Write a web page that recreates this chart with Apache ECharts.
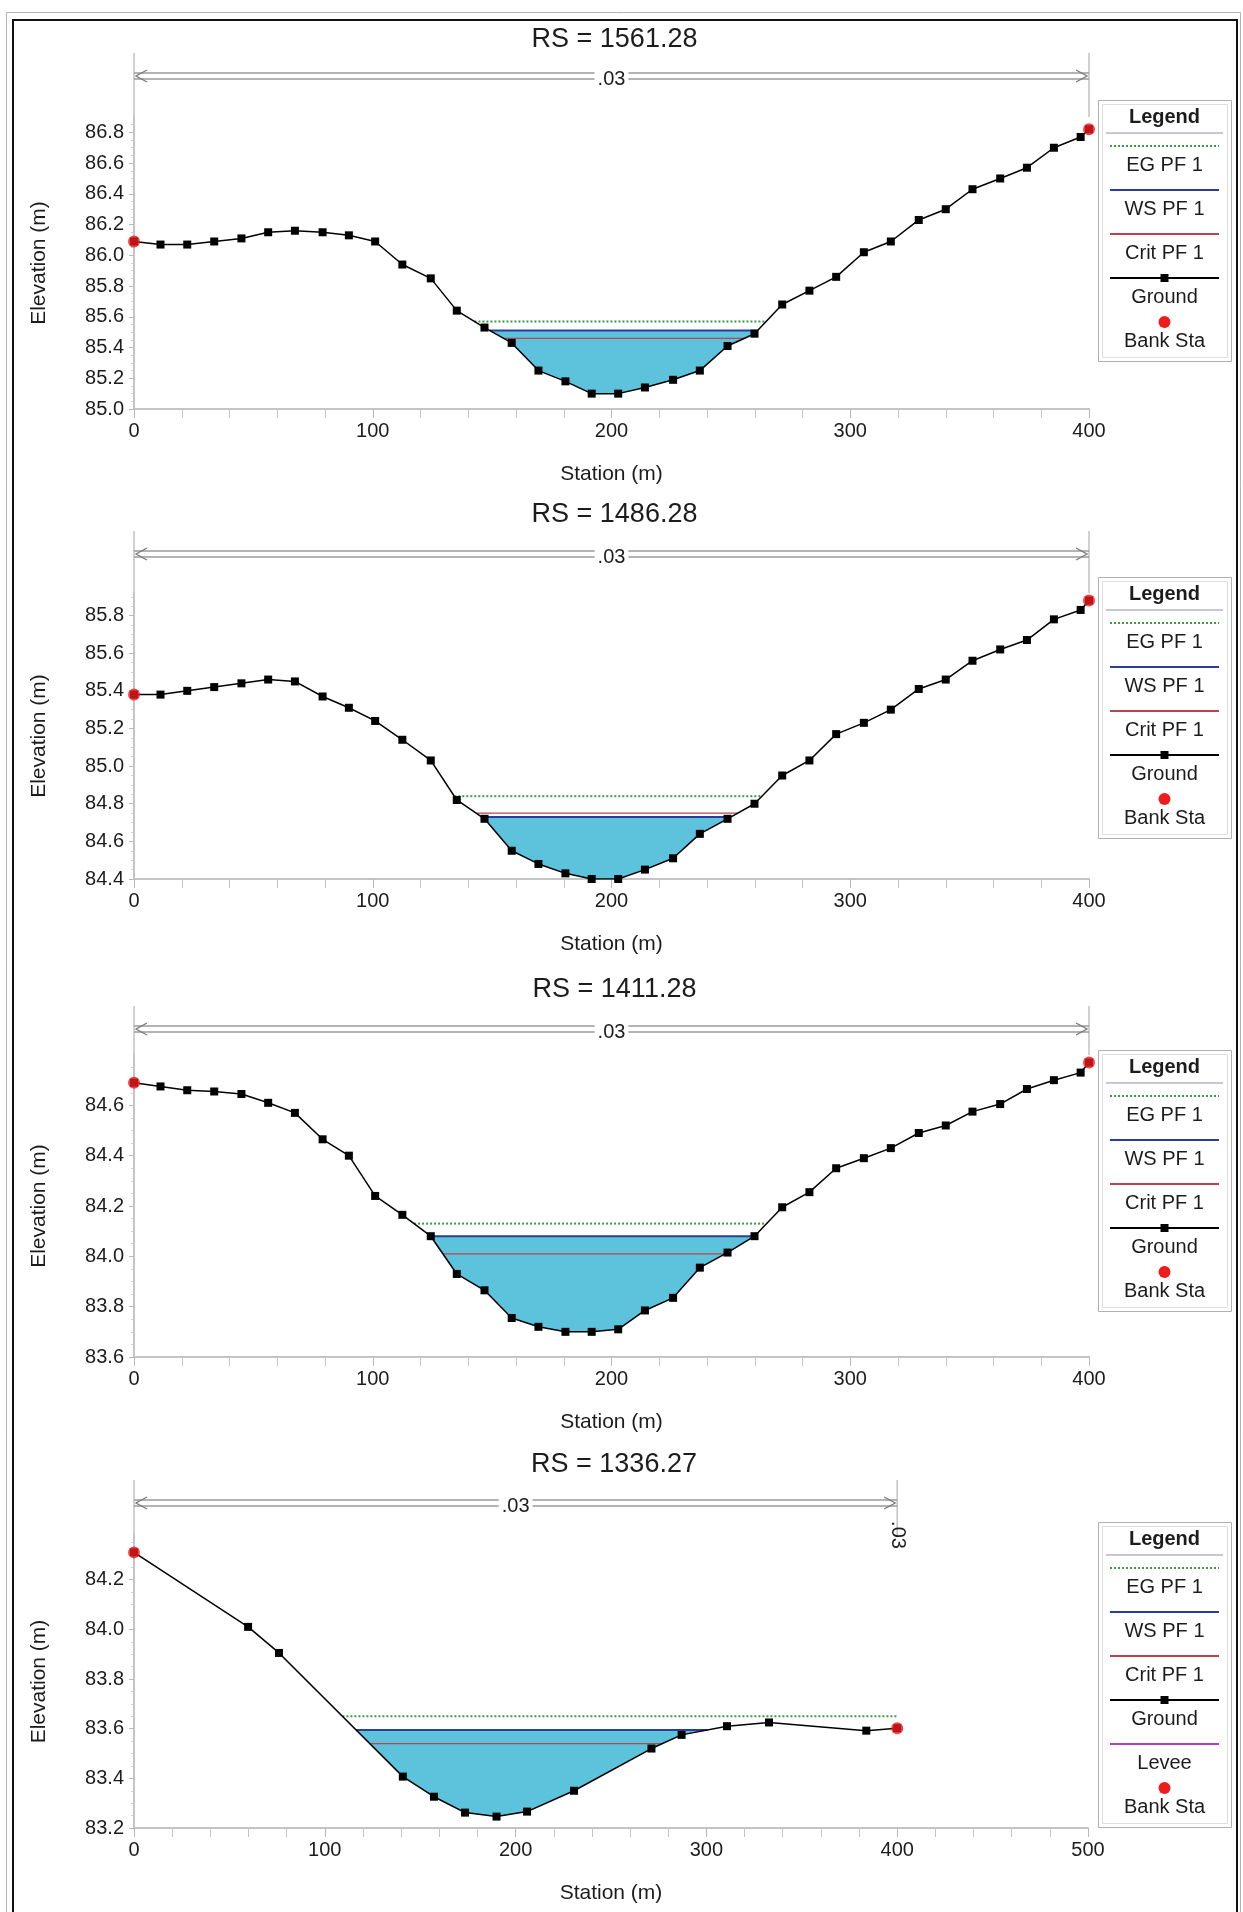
<!DOCTYPE html>
<html>
<head>
<meta charset="utf-8">
<title>Cross Sections PF 1</title>
<script src="https://cdn.jsdelivr.net/npm/echarts@6/dist/echarts.min.js"></script>
<style>
  html, body { margin: 0; padding: 0; background: #ffffff; }
  #chart { width: 1243px; height: 1912px; }
</style>
</head>
<body>
<div id="chart"></div>
<script>
// ---------------------------------------------------------------
// Survey data: station (m) and ground elevation (m)
// ---------------------------------------------------------------
const riverStations = ['1561.28', '1486.28', '1411.28', '1336.27'];

// stations shared by the three upstream sections
const stationsA = [0, 11.1, 22.3, 33.6, 45.0, 56.2, 67.4, 79.0, 90.0, 101.0, 112.4, 124.3,
  135.2, 146.8, 158.2, 169.4, 180.7, 191.7, 202.8, 214.0, 225.8, 237.0, 248.6, 259.9,
  271.5, 282.9, 294.1, 305.7, 317.0, 328.7, 340.0, 351.2, 362.8, 374.0, 385.3, 396.5, 400.0];

const ground1561 = [86.09, 86.07, 86.07, 86.09, 86.11, 86.15, 86.16, 86.15, 86.13, 86.09,
  85.94, 85.85, 85.64, 85.53, 85.43, 85.25, 85.18, 85.10, 85.10, 85.14,
  85.19, 85.25, 85.41, 85.49, 85.68, 85.77, 85.86, 86.02, 86.09, 86.23,
  86.30, 86.43, 86.50, 86.57, 86.70, 86.77, 86.82];

const ground1486 = [85.38, 85.38, 85.40, 85.42, 85.44, 85.46, 85.45, 85.37, 85.31, 85.24,
  85.14, 85.03, 84.82, 84.72, 84.55, 84.48, 84.43, 84.40, 84.40, 84.45,
  84.51, 84.64, 84.72, 84.80, 84.95, 85.03, 85.17, 85.23, 85.30, 85.41,
  85.46, 85.56, 85.62, 85.67, 85.78, 85.83, 85.88];

const ground1411 = [84.69, 84.675, 84.66, 84.655, 84.645, 84.61, 84.57, 84.465, 84.40, 84.24,
  84.165, 84.08, 83.93, 83.865, 83.755, 83.72, 83.70, 83.70, 83.71, 83.785,
  83.835, 83.955, 84.015, 84.08, 84.195, 84.255, 84.35, 84.39, 84.43, 84.49,
  84.52, 84.575, 84.605, 84.665, 84.70, 84.73, 84.77];

const stations1336 = [0, 59.8, 76.0, 140.9, 157.2, 173.5, 190.0, 206.0, 230.6, 271.2, 287.0, 310.8, 332.8, 383.8, 400.0];
const ground1336 = [84.31, 84.01, 83.905, 83.407, 83.326, 83.262, 83.246, 83.266, 83.35, 83.52, 83.575, 83.61, 83.625, 83.592, 83.602];

// Profile PF 1 results per section (m)
const egPF1 = [85.57, 84.84, 84.13, 83.65];
const wsPF1 = [85.51, 84.73, 84.08, 83.595];
const critPF1 = [85.46, 84.75, 84.01, 83.54];

// Bank stations (m)
const bankSta1561 = [0, 400];
const bankSta1486 = [0, 400];
const bankSta1411 = [0, 400];
const bankSta1336 = [0, 400];

// Manning's n reaches: [from station, to station, n label]
const manning1561 = [[0, 400, '.03']];
const manning1486 = [[0, 400, '.03']];
const manning1411 = [[0, 400, '.03']];
const manning1336 = [[0, 400, '.03'], [400, 400, '.03']];

// Axis ticks
const xTicks400 = [0, 100, 200, 300, 400];
const xTicks500 = [0, 100, 200, 300, 400, 500];
const yTicks1561 = [85.0, 85.2, 85.4, 85.6, 85.8, 86.0, 86.2, 86.4, 86.6, 86.8];
const yTicks1486 = [84.4, 84.6, 84.8, 85.0, 85.2, 85.4, 85.6, 85.8];
const yTicks1411 = [83.6, 83.8, 84.0, 84.2, 84.4, 84.6];
const yTicks1336 = [83.2, 83.4, 83.6, 83.8, 84.0, 84.2];

// Legend entries
const legendStd = ['EG PF 1', 'WS PF 1', 'Crit PF 1', 'Ground', 'Bank Sta'];
const legendLevee = ['EG PF 1', 'WS PF 1', 'Crit PF 1', 'Ground', 'Levee', 'Bank Sta'];

// ---------------------------------------------------------------
// Styling and page layout
// ---------------------------------------------------------------
const FONT = '"Liberation Sans", Arial, Helvetica, sans-serif';
const C = {
  water: '#5dc2db', eg: '#3a9a45', ws: '#2b3c9c', crit: '#b8454e',
  ground: '#000000', bank: '#ee1c1c', levee: '#b23ec2',
  axis: '#c4c4c4', text: '#1c1c1c', bar: '#9a9a9a'
};

const layout = [
  { top: 117, height: 292, width: 955, title: 40, bar: 76, legendTop: 100 },
  { top: 593, height: 286, width: 955, title: 515, bar: 554, legendTop: 577 },
  { top: 1055, height: 302, width: 955, title: 990, bar: 1029, legendTop: 1050 },
  { top: 1535, height: 293, width: 954, title: 1465, bar: 1503, legendTop: 1522 }
];
const GRID_LEFT = 134;
const LEGEND_X = 1098;

const sections = [
  { sta: stationsA, gr: ground1561, bank: bankSta1561, mann: manning1561, xTicks: xTicks400, yTicks: yTicks1561, yMax: 86.9, legend: legendStd },
  { sta: stationsA, gr: ground1486, bank: bankSta1486, mann: manning1486, xTicks: xTicks400, yTicks: yTicks1486, yMax: 85.92, legend: legendStd },
  { sta: stationsA, gr: ground1411, bank: bankSta1411, mann: manning1411, xTicks: xTicks400, yTicks: yTicks1411, yMax: 84.8, legend: legendStd },
  { sta: stations1336, gr: ground1336, bank: bankSta1336, mann: manning1336, xTicks: xTicks500, yTicks: yTicks1336, yMax: 84.38, legend: legendLevee }
];

// Ground elevation at a station (linear between survey points)
function groundAt(sta, gr, x) {
  for (let i = 0; i < sta.length - 1; i++) {
    if (x >= sta[i] && x <= sta[i + 1]) {
      const t = sta[i + 1] === sta[i] ? 0 : (x - sta[i]) / (sta[i + 1] - sta[i]);
      return gr[i] + t * (gr[i + 1] - gr[i]);
    }
  }
  return gr[gr.length - 1];
}

// Extent of a level across the channel around the thalweg
function levelExtent(sta, gr, level) {
  let m = 0;
  for (let i = 1; i < gr.length; i++) if (gr[i] < gr[m]) m = i;
  let l = m;
  while (l > 0 && gr[l - 1] < level) l--;
  const xl = l > 0 ? sta[l - 1] + (sta[l] - sta[l - 1]) * (gr[l - 1] - level) / (gr[l - 1] - gr[l]) : sta[0];
  let r = m;
  while (r < gr.length - 1 && gr[r + 1] < level) r++;
  const xr = r < gr.length - 1 ? sta[r] + (sta[r + 1] - sta[r]) * (level - gr[r]) / (gr[r + 1] - gr[r]) : sta[sta.length - 1];
  return { l, r, xl, xr };
}

function waterPolygon(sta, gr, level) {
  const e = levelExtent(sta, gr, level);
  const pts = [[e.xl, level]];
  for (let i = e.l; i <= e.r; i++) pts.push([sta[i], gr[i]]);
  pts.push([e.xr, level]);
  return pts;
}

function levelLine(sta, gr, level) {
  const e = levelExtent(sta, gr, level);
  return [[e.xl, level], [e.xr, level]];
}

// ---------------------------------------------------------------
// Options
// ---------------------------------------------------------------
const grids = [], xAxes = [], yAxes = [], series = [];

sections.forEach((s, i) => {
  const L = layout[i];
  grids.push({ left: GRID_LEFT, top: L.top, width: L.width, height: L.height, containLabel: false, outerBoundsMode: 'none' });

  xAxes.push({
    type: 'value', gridIndex: i,
    min: s.xTicks[0], max: s.xTicks[s.xTicks.length - 1], interval: 100,
    name: 'Station (m)', nameLocation: 'middle', nameGap: 55,
    nameTextStyle: { fontFamily: FONT, fontSize: 21, color: C.text },
    axisLine: { show: true, onZero: false, lineStyle: { color: C.axis, width: 2 } },
    axisTick: { show: true, length: 9, lineStyle: { color: '#b8b8b8' }, customValues: s.xTicks },
    minorTick: { show: true, splitNumber: 5, length: 9, lineStyle: { color: '#c4c4c4' } },
    axisLabel: { fontFamily: FONT, fontSize: 20, color: C.text, margin: 12, customValues: s.xTicks },
    splitLine: { show: false }, minorSplitLine: { show: false }
  });

  yAxes.push({
    type: 'value', gridIndex: i,
    min: s.yTicks[0], max: s.yMax, interval: 0.2,
    name: 'Elevation (m)', nameLocation: 'middle', nameGap: 84, nameRotate: 90, nameMoveOverlap: false,
    nameTextStyle: { fontFamily: FONT, fontSize: 21, color: C.text },
    axisLine: { show: true, onZero: false, lineStyle: { color: C.axis, width: 2 } },
    axisTick: { show: true, length: 5, lineStyle: { color: '#b8b8b8' }, customValues: s.yTicks },
    minorTick: { show: true, splitNumber: 4, length: 3, lineStyle: { color: '#cfcfcf' } },
    axisLabel: {
      fontFamily: FONT, fontSize: 20, color: C.text, margin: 10,
      customValues: s.yTicks, formatter: v => v.toFixed(1)
    },
    splitLine: { show: false }, minorSplitLine: { show: false }
  });

  const ground = s.sta.map((x, k) => [x, s.gr[k]]);
  const poly = waterPolygon(s.sta, s.gr, wsPF1[i]);

  series.push({
    type: 'custom', xAxisIndex: i, yAxisIndex: i, z: 1, silent: true,
    data: poly,
    renderItem: (params, api) => {
      if (params.dataIndexInside !== 0) return null;
      return {
        type: 'polygon',
        shape: { points: poly.map(p => api.coord(p)) },
        style: { fill: C.water, stroke: null }
      };
    }
  });
  series.push({
    type: 'line', xAxisIndex: i, yAxisIndex: i, z: 2, symbol: 'none', silent: true,
    data: levelLine(s.sta, s.gr, critPF1[i]),
    lineStyle: { color: C.crit, width: 1.3 }
  });
  series.push({
    type: 'line', xAxisIndex: i, yAxisIndex: i, z: 2, symbol: 'none', silent: true,
    data: levelLine(s.sta, s.gr, wsPF1[i]),
    lineStyle: { color: C.ws, width: 2 }
  });
  series.push({
    type: 'line', xAxisIndex: i, yAxisIndex: i, z: 2, symbol: 'none', silent: true,
    data: levelLine(s.sta, s.gr, egPF1[i]),
    lineStyle: { color: C.eg, width: 2, type: 'dotted' }
  });
  series.push({
    type: 'line', xAxisIndex: i, yAxisIndex: i, z: 3, silent: true,
    data: ground, showAllSymbol: true,
    symbol: 'rect', symbolSize: 8,
    itemStyle: { color: C.ground },
    lineStyle: { color: C.ground, width: 1.5 }
  });
  series.push({
    type: 'scatter', xAxisIndex: i, yAxisIndex: i, z: 4, silent: true,
    data: s.bank.map(x => [x, groundAt(s.sta, s.gr, x)]),
    symbol: 'circle', symbolSize: 12,
    itemStyle: { color: C.bank }
  });
});

const chart = echarts.init(document.getElementById('chart'), null, { renderer: 'canvas' });
chart.setOption({
  animation: false,
  backgroundColor: '#ffffff',
  grid: grids, xAxis: xAxes, yAxis: yAxes, series: series
});

// ---------------------------------------------------------------
// Frame, titles, Manning's n bars and legends
// ---------------------------------------------------------------
function px(i, x, y) { return chart.convertToPixel({ gridIndex: i }, [x, y]); }
function seg(x1, y1, x2, y2, color, w, z) {
  return { type: 'line', silent: true, z: z || 10, shape: { x1, y1, x2, y2 }, style: { stroke: color, lineWidth: w } };
}

const g = [];
g.push({ type: 'rect', silent: true, z: 0, shape: { x: 6.5, y: 12.5, width: 1234, height: 1910 }, style: { fill: null, stroke: '#b4b4b4', lineWidth: 1 } });
g.push({ type: 'rect', silent: true, z: 0, shape: { x: 13, y: 20, width: 1224, height: 1905 }, style: { fill: null, stroke: '#111111', lineWidth: 2 } });

sections.forEach((s, i) => {
  const L = layout[i];
  const xMid = px(i, (s.xTicks[0] + s.xTicks[s.xTicks.length - 1]) / 2, s.yTicks[0])[0];

  // section title
  g.push({
    type: 'text', silent: true, z: 10,
    style: { text: 'RS = ' + riverStations[i], x: xMid + 3, y: L.title, align: 'center', verticalAlign: 'middle',
      font: '27px ' + FONT, fill: C.text }
  });

  // Manning's n reaches
  const yb = L.bar;
  s.mann.forEach(([a, b, label]) => {
    const xa = px(i, a, s.yTicks[0])[0];
    const xb = px(i, b, s.yTicks[0])[0];
    if (b > a) {
      g.push(seg(xa, yb - 23, xa, L.top, '#c2c2c2', 1.5));
      g.push(seg(xb, yb - 23, xb, L.top, '#c2c2c2', 1.5));
      g.push(seg(xa, yb - 3, xb, yb - 3, C.bar, 1.3));
      g.push(seg(xa, yb + 3, xb, yb + 3, C.bar, 1.3));
      g.push({ type: 'polyline', silent: true, z: 10, shape: { points: [[xa + 13, yb - 6], [xa + 2, yb], [xa + 13, yb + 6]] }, style: { stroke: '#7a7a7a', lineWidth: 1.3, fill: null } });
      g.push({ type: 'polyline', silent: true, z: 10, shape: { points: [[xb - 13, yb - 6], [xb - 2, yb], [xb - 13, yb + 6]] }, style: { stroke: '#7a7a7a', lineWidth: 1.3, fill: null } });
      g.push({
        type: 'text', silent: true, z: 11,
        style: { text: label, x: (xa + xb) / 2, y: yb + 3, align: 'center', verticalAlign: 'middle',
          font: '20px ' + FONT, fill: C.text, backgroundColor: '#ffffff', padding: [0, 3] }
      });
    } else {
      g.push({
        type: 'text', silent: true, z: 11, x: xa, y: yb + 32, rotation: -Math.PI / 2,
        style: { text: label, x: 0, y: 0, align: 'center', verticalAlign: 'middle',
          font: '20px ' + FONT, fill: C.text }
      });
    }
  });

  // legend box
  const items = s.legend;
  const W = 133, head = 33, pitch = 44;
  const x0 = LEGEND_X, y0 = L.legendTop;
  const H = head + pitch * items.length + 8;
  g.push({ type: 'rect', silent: true, z: 20, shape: { x: x0 + 0.5, y: y0 + 0.5, width: W, height: H }, style: { fill: '#ffffff', stroke: '#b0b0b0', lineWidth: 1 } });
  g.push({ type: 'rect', silent: true, z: 20, shape: { x: x0 + 4.5, y: y0 + 4.5, width: W - 8, height: H - 8 }, style: { fill: null, stroke: '#dedede', lineWidth: 1 } });
  g.push({ type: 'text', silent: true, z: 21, style: { text: 'Legend', x: x0 + W / 2, y: y0 + 17, align: 'center', verticalAlign: 'middle', font: 'bold 20px ' + FONT, fill: C.text } });
  g.push(seg(x0 + 8, y0 + head, x0 + W - 8, y0 + head, '#b9b3c8', 1.5, 21));
  items.forEach((name, k) => {
    const ly = y0 + head + 13 + pitch * k;
    const ty = y0 + head + 32 + pitch * k;
    const lx1 = x0 + 12, lx2 = x0 + W - 12, cx = x0 + W / 2;
    if (name.startsWith('EG')) {
      g.push({ type: 'line', silent: true, z: 21, shape: { x1: lx1, y1: ly, x2: lx2, y2: ly }, style: { stroke: C.eg, lineWidth: 2, lineDash: [2, 2] } });
    } else if (name.startsWith('WS')) {
      g.push(seg(lx1, ly, lx2, ly, C.ws, 2, 21));
    } else if (name.startsWith('Crit')) {
      g.push(seg(lx1, ly, lx2, ly, C.crit, 2, 21));
    } else if (name === 'Ground') {
      g.push(seg(lx1, ly, lx2, ly, C.ground, 2, 21));
      g.push({ type: 'rect', silent: true, z: 22, shape: { x: cx - 4, y: ly - 4, width: 8, height: 8 }, style: { fill: C.ground } });
    } else if (name === 'Levee') {
      g.push(seg(lx1, ly, lx2, ly, C.levee, 2, 21));
    } else if (name === 'Bank Sta') {
      g.push({ type: 'circle', silent: true, z: 22, shape: { cx: cx, cy: ly, r: 6 }, style: { fill: C.bank } });
    }
    g.push({ type: 'text', silent: true, z: 21, style: { text: name, x: cx, y: ty, align: 'center', verticalAlign: 'middle', font: '20px ' + FONT, fill: C.text } });
  });
});

chart.setOption({ graphic: { elements: g } });
</script>
</body>
</html>
